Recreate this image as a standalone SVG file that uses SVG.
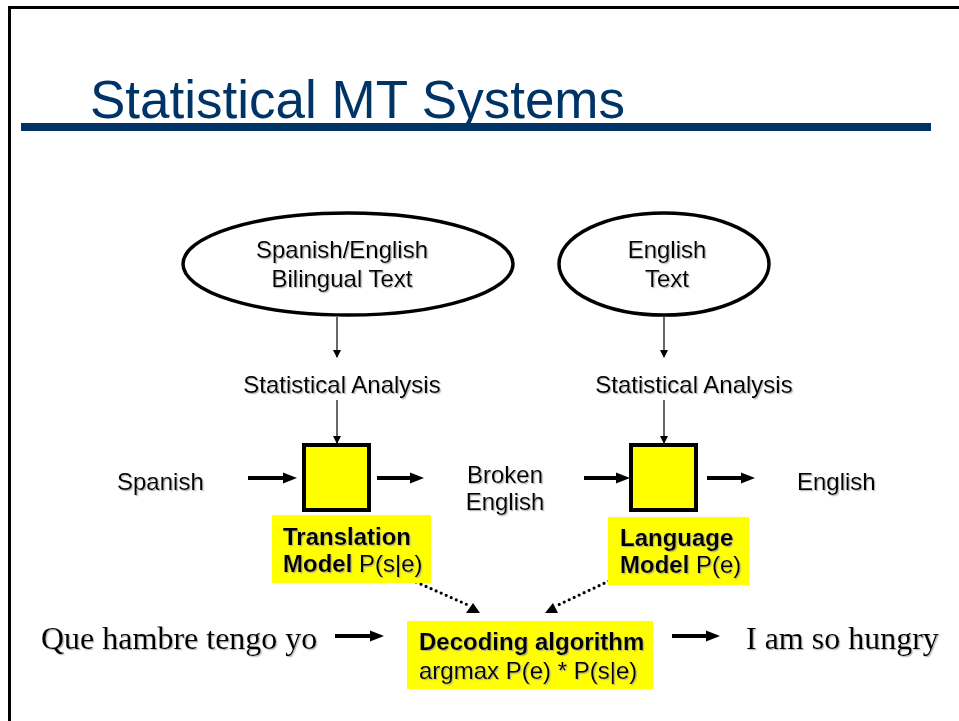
<svg xmlns="http://www.w3.org/2000/svg" width="959" height="721" viewBox="0 0 959 721">
  <style>
    .t { font-family: "Liberation Sans", Arial, sans-serif; font-size: 24px; fill: #000; filter: url(#sh); }
    .b { font-weight: bold; }
    .s { font-family: "Liberation Serif", "Times New Roman", serif; font-size: 32px; fill: #000; filter: url(#sh); }
    .mid { text-anchor: middle; }
    .ell { fill: #fff; stroke: #000; stroke-width: 3.5; }
    .box { fill: #ffff00; stroke: #000; stroke-width: 4; }
    .lab { fill: #ffff00; }
    .thin { stroke: #000; stroke-width: 1.2; fill: none; }
    .thick { stroke: #000; stroke-width: 4; fill: none; }
    .dot { stroke: #000; stroke-width: 3.2; fill: none; stroke-linecap: round; stroke-dasharray: 0 5.5; }
  </style>
  <defs>
    <filter id="sh" x="-5%" y="-20%" width="110%" height="140%">
      <feDropShadow dx="1.2" dy="1.2" stdDeviation="0.3" flood-color="#9a9a9a" flood-opacity="0.7"/>
    </filter>
    <marker id="ah" markerWidth="8" markerHeight="8" refX="7" refY="4" orient="auto" markerUnits="userSpaceOnUse">
      <path d="M0,0 L8,4 L0,8 Z" fill="#000"/>
    </marker>
  </defs>

  <rect width="959" height="721" fill="#fff"/>
  <path d="M9.5,721 V7.5 H959" fill="none" stroke="#000" stroke-width="3"/>

  <g id="title">
    <text x="90" y="118" font-family="Liberation Sans, Arial, sans-serif" font-size="53" fill="#003366">Statistical MT Systems</text>
    <rect x="21" y="123" width="910" height="8" fill="#003366"/>
  </g>

  <g id="connectors">
    <line class="thin" x1="337" y1="317" x2="337" y2="357" marker-end="url(#ah)"/>
    <line class="thin" x1="664" y1="317" x2="664" y2="357" marker-end="url(#ah)"/>
    <line class="thin" x1="337" y1="400" x2="337" y2="443" marker-end="url(#ah)"/>
    <line class="thin" x1="664" y1="400" x2="664" y2="443" marker-end="url(#ah)"/>

    <line class="thick" x1="248" y1="478" x2="285" y2="478"/>
    <polygon points="283,472.5 297,478 283,483.5" fill="#000"/>
    <line class="thick" x1="377" y1="478" x2="412" y2="478"/>
    <polygon points="410,472.5 424,478 410,483.5" fill="#000"/>
    <line class="thick" x1="584" y1="478" x2="618" y2="478"/>
    <polygon points="616,472.5 630,478 616,483.5" fill="#000"/>
    <line class="thick" x1="707" y1="478" x2="743" y2="478"/>
    <polygon points="741,472.5 755,478 741,483.5" fill="#000"/>

    <line class="thick" x1="335" y1="636" x2="372" y2="636"/>
    <polygon points="370,630.5 384,636 370,641.5" fill="#000"/>
    <line class="thick" x1="672" y1="636" x2="708" y2="636"/>
    <polygon points="706,630.5 720,636 706,641.5" fill="#000"/>

    <line class="dot" x1="416" y1="582" x2="468" y2="605"/>
    <polygon points="473,603 466,613 480,613" fill="#000"/>
    <line class="dot" x1="609" y1="581" x2="558" y2="605"/>
    <polygon points="553,603 545,613 558,613" fill="#000"/>
  </g>

  <g id="bilingual-text">
    <ellipse class="ell" cx="348" cy="264" rx="165" ry="51"/>
    <text class="t mid" x="342" y="258">Spanish/English</text>
    <text class="t mid" x="342" y="287">Bilingual Text</text>
  </g>

  <g id="english-text">
    <ellipse class="ell" cx="664" cy="264" rx="105" ry="51"/>
    <text class="t mid" x="667" y="258">English</text>
    <text class="t mid" x="667" y="287">Text</text>
  </g>

  <g id="stat-analysis-1">
    <text class="t mid" x="342" y="393">Statistical Analysis</text>
  </g>
  <g id="stat-analysis-2">
    <text class="t mid" x="694" y="393">Statistical Analysis</text>
  </g>

  <g id="spanish">
    <text class="t" x="117" y="490">Spanish</text>
  </g>

  <g id="translation-model">
    <rect class="box" x="304" y="445" width="65" height="65"/>
    <rect class="lab" x="272" y="515" width="159" height="68"/>
    <text class="t b" x="283" y="545">Translation</text>
    <text class="t" x="283" y="572"><tspan class="b">Model</tspan> P(s|e)</text>
  </g>

  <g id="broken-english">
    <text class="t mid" x="505" y="483">Broken</text>
    <text class="t mid" x="505" y="510">English</text>
  </g>

  <g id="language-model">
    <rect class="box" x="631" y="445" width="65" height="65"/>
    <rect class="lab" x="608" y="517" width="141" height="68"/>
    <text class="t b" x="620" y="546">Language</text>
    <text class="t" x="620" y="573"><tspan class="b">Model</tspan> P(e)</text>
  </g>

  <g id="english">
    <text class="t" x="797" y="490">English</text>
  </g>

  <g id="source-sentence">
    <text class="s" x="41" y="649">Que hambre tengo yo</text>
  </g>

  <g id="decoding">
    <rect class="lab" x="407" y="621" width="246" height="68"/>
    <text class="t b" x="419" y="650">Decoding algorithm</text>
    <text class="t" x="419" y="679">argmax P(e) * P(s|e)</text>
  </g>

  <g id="target-sentence">
    <text class="s" x="746" y="649">I am so hungry</text>
  </g>
</svg>
